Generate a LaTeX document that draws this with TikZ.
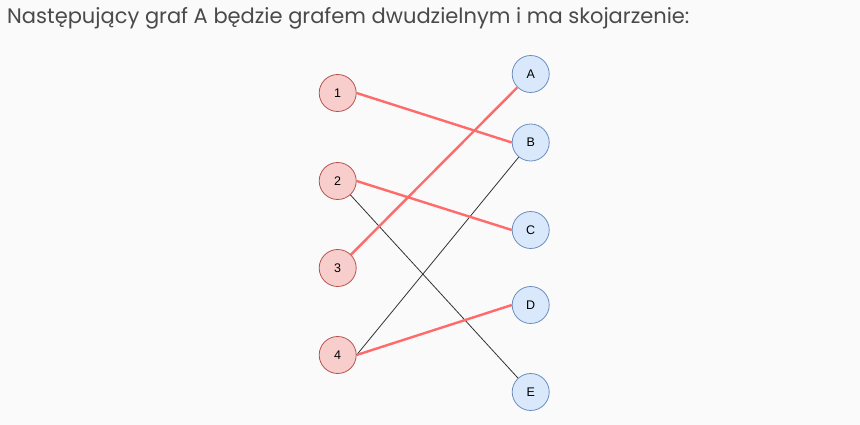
\documentclass[tikz,border=0pt]{standalone}
\usepackage{fontspec}
\setmainfont{Liberation Sans}
\newfontfamily\titlefont{Poppins}
\begin{document}
\begin{tikzpicture}[x=1pt,y=-1pt,
  lnode/.style={circle,draw=redborder,fill=redfill,line width=0.8pt,minimum size=37pt,inner sep=0pt,font=\fontsize{12.5}{14}\selectfont},
  rnode/.style={circle,draw=blueline,fill=bluefill,line width=0.8pt,minimum size=37pt,inner sep=0pt,font=\fontsize{12.5}{14}\selectfont},
  match/.style={draw=redline,line width=2.4pt},
  plain/.style={draw=black!80,line width=0.8pt}]
\definecolor{redfill}{HTML}{F8CECC}
\definecolor{redborder}{HTML}{B85450}
\definecolor{bluefill}{HTML}{DAE8FC}
\definecolor{blueline}{HTML}{6C8EBF}
\definecolor{redline}{HTML}{FF6B6B}
\definecolor{titlegray}{HTML}{4A4A4A}
\fill[fill={rgb,255:red,250;green,250;blue,250}] (0,0) rectangle (860,425);
\useasboundingbox (0,0) rectangle (860,425);
\node[anchor=base west,text=titlegray,font=\titlefont\fontsize{21}{24}\selectfont,inner sep=0pt] (title) at (7,24) {Następujący graf A będzie grafem dwudzielnym i ma skojarzenie:};
\node[lnode] (n1) at (337.7,93) {1};
\node[lnode] (n2) at (337.7,181) {2};
\node[lnode] (n3) at (337.7,268) {3};
\node[lnode] (n4) at (337.7,355) {4};
\node[rnode] (A) at (530.7,74) {A};
\node[rnode] (B) at (530.7,142.5) {B};
\node[rnode] (C) at (530.7,230) {C};
\node[rnode] (D) at (530.7,305) {D};
\node[rnode] (E) at (530.7,392) {E};
\draw[plain] (n2) -- (E);
\draw[plain] (n4.east) -- (B);
\draw[match] (n1.east) -- (B.west);
\draw[match] (n2.east) -- (C.west);
\draw[match] (n3) -- (A);
\draw[match] (n4.east) -- (D.west);
\end{tikzpicture}
\end{document}
